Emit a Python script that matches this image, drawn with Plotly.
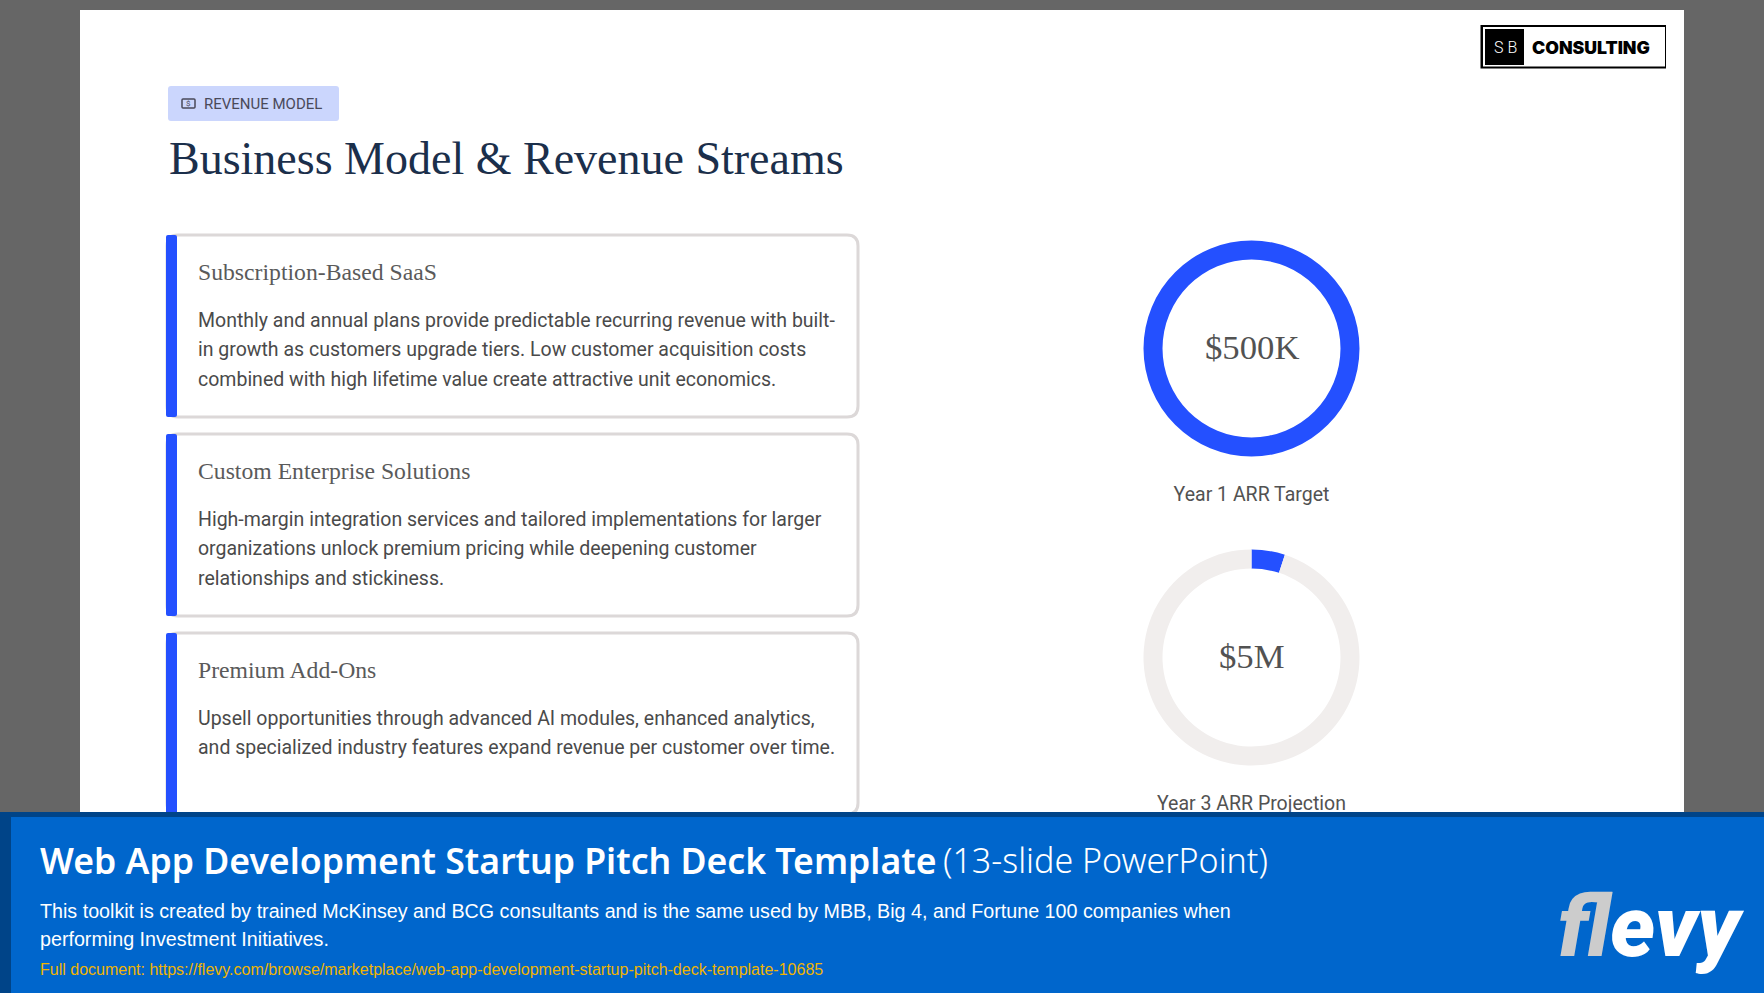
# revenue model slide with the two ARR donuts and the flevy banner
import plotly.graph_objects as go

W, H = 1764, 993

BLUE = '#2450FF'
TRACK = '#F1EEED'
GREY_BG = '#666666'
BANNER = '#0066CC'
BANNER_DARK = '#004488'

# donuts
donut_values = [[100], [5, 95]]
donut_colors = [[BLUE], [BLUE, TRACK]]
donut_centers = ['$500K', '$5M']
donut_labels = ['Year 1 ARR Target', 'Year 3 ARR Projection']
donut_cx = 1251.5
donut_cy = [348.5, 657.5]
donut_r = 108
donut_label_y = [496, 805]

# cards
card_titles = ['Subscription-Based SaaS', 'Custom Enterprise Solutions', 'Premium Add-Ons']
card_lines = [
    ['Monthly and annual plans provide predictable recurring revenue with built-',
     'in growth as customers upgrade tiers. Low customer acquisition costs',
     'combined with high lifetime value create attractive unit economics.'],
    ['High-margin integration services and tailored implementations for larger',
     'organizations unlock premium pricing while deepening customer',
     'relationships and stickiness.'],
    ['Upsell opportunities through advanced AI modules, enhanced analytics,',
     'and specialized industry features expand revenue per customer over time.'],
]
card_top = [235, 434, 633]
card_bottom = [417, 616, 814]


def round_rect(x0, y0, x1, y1, r):
    return (f'M{x0+r},{y0} L{x1-r},{y0} Q{x1},{y0} {x1},{y0+r} L{x1},{y1-r} Q{x1},{y1} {x1-r},{y1} '
            f'L{x0+r},{y1} Q{x0},{y1} {x0},{y1-r} L{x0},{y0+r} Q{x0},{y0} {x0+r},{y0} Z')


def box(x0, y0, x1, y1, fill, line=None, lw=0, layer='below'):
    return dict(type='rect', x0=x0, y0=y0, x1=x1, y1=y1, fillcolor=fill,
                line=dict(color=line, width=lw) if line else dict(width=0), layer=layer)


def rbox(x0, y0, x1, y1, r, fill, line=None, lw=0):
    return dict(type='path', path=round_rect(x0, y0, x1, y1, r), fillcolor=fill,
                line=dict(color=line, width=lw) if line else dict(width=0), layer='below')


def label(x, y, text, size, color, family, weight=None, xanchor='left'):
    return dict(x=x, y=y, text=text, showarrow=False, xanchor=xanchor, yanchor='middle',
                xshift=-2 if xanchor == 'left' else 0,
                font=dict(size=size, color=color, family=family, weight=weight))


fig = go.Figure()

# text that has to sit under the banner goes in as a trace
fig.add_trace(go.Scatter(x=[donut_cx, donut_cx], y=donut_label_y, mode='text', text=donut_labels,
                         textposition='middle center', hoverinfo='skip', showlegend=False,
                         textfont=dict(family='Roboto', size=19.5, color='#525252')))

for i in range(2):
    fig.add_trace(go.Pie(values=donut_values[i], sort=False, direction='clockwise', rotation=0,
                         hole=0.824, textinfo='none', hoverinfo='skip', showlegend=False,
                         marker=dict(colors=donut_colors[i], line=dict(width=0)),
                         domain=dict(x=[(donut_cx - donut_r) / W, (donut_cx + donut_r) / W],
                                     y=[1 - (donut_cy[i] + donut_r) / H, 1 - (donut_cy[i] - donut_r) / H])))

shapes = [box(80, 10, 1684, 993, 'white')]
annotations = []

# badge and logo
shapes.append(rbox(168, 86, 339, 121, 3, '#CBD6FD'))
shapes.append(rbox(182, 99, 195, 108, 1, 'rgba(0,0,0,0)', '#4A4A5A', 1.5))
annotations.append(label(188.5, 103.5, '$', 8, '#4A4A5A', 'Roboto', xanchor='center'))
annotations.append(label(204, 104, 'REVENUE MODEL', 15, '#4A4A5A', 'Roboto'))
annotations.append(label(169, 158, 'Business Model &amp; Revenue Streams', 46, '#1B2F4B', 'Liberation Serif'))

shapes.append(box(1480.5, 25, 1666, 68.5, 'black'))
shapes.append(box(1483, 27, 1665, 66.5, 'white'))
shapes.append(box(1485, 29, 1524, 65, 'black'))
annotations.append(label(1505, 47, 'S B', 16, 'white', 'Roboto', weight=300, xanchor='center'))
annotations.append(label(1532, 47, 'CONSULTING', 17.7, 'black', 'Inter', weight=900))

# cards
for i in range(3):
    shapes.append(rbox(167, card_top[i], 858, card_bottom[i], 11, 'white', '#DCD8D8', 3))
    shapes.append(rbox(166, card_top[i], 177, card_bottom[i], 2, BLUE))
    annotations.append(label(198, card_top[i] + 37, card_titles[i], 23.7, '#5A5A5A', 'Liberation Serif'))
    for j, line in enumerate(card_lines[i]):
        annotations.append(label(198, card_top[i] + 85 + j * 29.6, line, 19.5, '#4A4A4A', 'Roboto'))

for i in range(2):
    annotations.append(label(donut_cx, donut_cy[i] - 1, donut_centers[i], 34.7, '#525252', 'Liberation Serif',
                             xanchor='center'))

# banner
shapes.append(box(0, 812, W, H, BANNER_DARK, layer='above'))
shapes.append(box(11, 817, W, H, BANNER, layer='above'))
annotations.append(label(40, 860, 'Web App Development Startup Pitch Deck Template', 35.6, 'white', 'Noto Sans', weight=600))
annotations.append(label(943, 860, '(13-slide PowerPoint)', 34, 'white', 'Noto Sans', weight=300))
annotations.append(label(40, 911, 'This toolkit is created by trained McKinsey and BCG consultants and is the same used by MBB, Big 4, and Fortune 100 companies when',
                         19.7, 'white', 'Liberation Sans'))
annotations.append(label(40, 939, 'performing Investment Initiatives.', 19.7, 'white', 'Liberation Sans'))
annotations.append(label(40, 969, 'Full document: https://flevy.com/browse/marketplace/web-app-development-startup-pitch-deck-template-10685',
                         16, '#F0B400', 'Liberation Sans'))
annotations.append(dict(x=1558, y=927, text='<i><span style="color:#CCCCCC">f</span>levy</i>', showarrow=False,
                        xanchor='left', yanchor='middle', xshift=-2,
                        font=dict(size=85, color='white', family='Roboto', weight=900)))

fig.update_xaxes(range=[0, W], visible=False)
fig.update_yaxes(range=[H, 0], visible=False)
fig.update_layout(width=W, height=H, margin=dict(l=0, r=0, t=0, b=0), paper_bgcolor=GREY_BG,
                  plot_bgcolor=GREY_BG, shapes=shapes, annotations=annotations, showlegend=False)

fig.write_html("out.html", config=dict(displayModeBar=False), post_script="document.body.style.margin='0';")
